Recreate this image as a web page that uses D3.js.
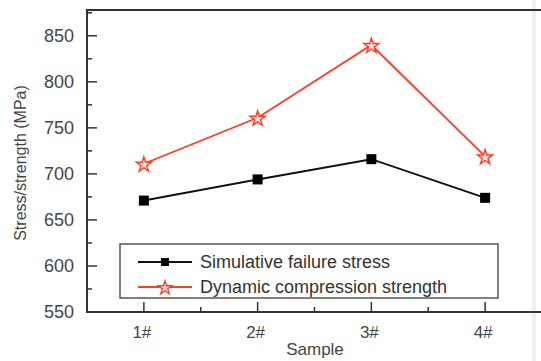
<!DOCTYPE html>
<html>
<head>
<meta charset="utf-8">
<script src="https://cdn.jsdelivr.net/npm/d3@7"></script>
<style>
  body { margin: 0; background: #fff; }
  svg { font-family: "Liberation Sans", Arial, sans-serif; }
</style>
</head>
<body>
<div class="canvas"></div>
<script>
// data
const samples = ['1#', '2#', '3#', '4#'];
const failureStress = [671, 694, 716, 674];
const compStrength = [711, 761, 840, 719];
const yTicks = [550, 600, 650, 700, 750, 800, 850];
const seriesNames = ['Simulative failure stress', 'Dynamic compression strength'];

const W = 541, H = 361;
const m = { t: 10, r: -1, b: 49, l: 87 };

const svg = d3.select('.canvas').append('svg')
  .attr('width', W).attr('height', H);

const x = d3.scaleLinear().domain([0.5, 4.5]).range([m.l, W - m.r]);
const y = d3.scaleLinear().domain([550, 878]).range([H - m.b, m.t]);

const ink = '#333';
const txt = '#454545';

// faint scan strip on the right
svg.append('rect').attr('x', 532).attr('y', 0).attr('width', 4).attr('height', H)
  .attr('fill', '#f1f1f1');

// frame
svg.append('path')
  .attr('d', `M${W + 5},${y(878)} H${m.l} V${y(550)} H${W + 5}`)
  .attr('fill', 'none').attr('stroke', ink).attr('stroke-width', 2);

// y ticks (inward)
const yAxis = svg.append('g');
yTicks.forEach(v => {
  yAxis.append('line').attr('x1', m.l).attr('x2', m.l + 10)
    .attr('y1', y(v)).attr('y2', y(v)).attr('stroke', ink).attr('stroke-width', 1.5);
  yAxis.append('text').attr('x', m.l - 13).attr('y', y(v)).attr('dy', '0.36em')
    .attr('text-anchor', 'end').attr('font-size', 18).attr('fill', txt).text(v);
});
d3.range(575, 876, 50).forEach(v => {
  yAxis.append('line').attr('x1', m.l).attr('x2', m.l + 5)
    .attr('y1', y(v)).attr('y2', y(v)).attr('stroke', ink).attr('stroke-width', 1.5);
});

// x ticks (inward)
const xAxis = svg.append('g');
samples.forEach((s, i) => {
  xAxis.append('line').attr('x1', x(i + 1)).attr('x2', x(i + 1))
    .attr('y1', y(550)).attr('y2', y(550) - 10).attr('stroke', ink).attr('stroke-width', 1.5);
  xAxis.append('text').attr('x', x(i + 1) - 2).attr('y', y(550) + 26)
    .attr('text-anchor', 'middle').attr('font-size', 17).attr('fill', txt).text(s);
  if (i < samples.length - 1) {
    xAxis.append('line').attr('x1', x(i + 1.5)).attr('x2', x(i + 1.5))
      .attr('y1', y(550)).attr('y2', y(550) - 5).attr('stroke', ink).attr('stroke-width', 1.5);
  }
});

// axis titles
svg.append('text').attr('x', 315).attr('y', 355).attr('text-anchor', 'middle')
  .attr('font-size', 17).attr('fill', txt).text('Sample');
svg.append('text').attr('transform', 'translate(26,163) rotate(-90)')
  .attr('text-anchor', 'middle').attr('font-size', 16).attr('fill', txt)
  .text('Stress/strength (MPa)');

// series
const line = d3.line().x((d, i) => x(i + 1)).y(d => y(d));
const star = d3.symbol().type(d3.symbolStar).size(70);

svg.append('path').datum(compStrength).attr('d', line)
  .attr('fill', 'none').attr('stroke', '#ff3b24').attr('stroke-width', 1.8);
svg.append('path').datum(failureStress).attr('d', line)
  .attr('fill', 'none').attr('stroke', '#111').attr('stroke-width', 2);

svg.selectAll('.sq').data(failureStress).enter().append('rect')
  .attr('x', (d, i) => x(i + 1) - 5).attr('y', d => y(d) - 5)
  .attr('width', 10).attr('height', 10).attr('fill', '#000');
svg.selectAll('.st').data(compStrength).enter().append('path')
  .attr('d', star).attr('transform', (d, i) => `translate(${x(i + 1)},${y(d) + 1})`)
  .attr('fill', '#ffe2dd').attr('stroke', '#ff3b24').attr('stroke-width', 1.4);

// legend
const lg = svg.append('g');
lg.append('rect').attr('x', 120).attr('y', 244).attr('width', 378).attr('height', 54)
  .attr('fill', '#fff').attr('stroke', '#555').attr('stroke-width', 1.5);
const rows = [
  { name: seriesNames[0], y: 262, color: '#111' },
  { name: seriesNames[1], y: 287, color: '#ff3b24' }
];
rows.forEach((r, i) => {
  lg.append('line').attr('x1', 138).attr('x2', 192).attr('y1', r.y).attr('y2', r.y)
    .attr('stroke', r.color).attr('stroke-width', 1.8);
  if (i === 0) {
    lg.append('rect').attr('x', 161).attr('y', r.y - 4).attr('width', 8).attr('height', 8).attr('fill', '#000');
  } else {
    lg.append('path').attr('d', d3.symbol().type(d3.symbolStar).size(60))
      .attr('transform', `translate(165,${r.y + 1})`)
      .attr('fill', '#ffe2dd').attr('stroke', '#ff3b24').attr('stroke-width', 1.3);
  }
  lg.append('text').attr('x', 200).attr('y', r.y).attr('dy', '0.36em')
    .attr('font-size', 18).attr('fill', '#333').text(r.name);
});
</script>
</body>
</html>
